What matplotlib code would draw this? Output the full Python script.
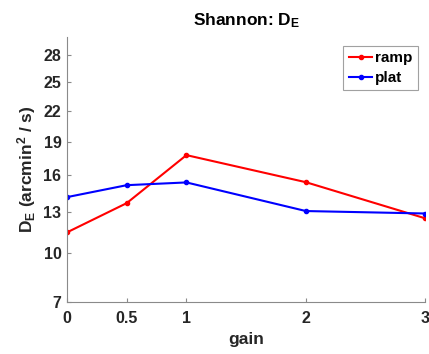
import numpy as np
import matplotlib
matplotlib.use("Agg")
import matplotlib.pyplot as plt

gain = [0, 0.5, 1, 2, 3]
ramp = [11.48, 13.70, 17.77, 15.41, 12.52]
plat = [14.18, 15.16, 15.39, 13.08, 12.89]
x_ticks = [0, 0.5, 1, 2, 3]
x_tick_labels = ["0", "0.5", "1", "2", "3"]
y_ticks = [7, 10, 13, 16, 19, 22, 25, 28]

plt.rcParams["font.family"] = ["Liberation Sans", "DejaVu Sans"]
plt.rcParams["font.weight"] = "bold"
plt.rcParams["mathtext.fontset"] = "custom"
plt.rcParams["mathtext.rm"] = "Liberation Sans:bold"
plt.rcParams["mathtext.it"] = "Liberation Sans:bold"
plt.rcParams["mathtext.bf"] = "Liberation Sans:bold"

fig = plt.figure(figsize=(4.29, 3.54), dpi=100)
ax = fig.add_axes([67 / 429, 52.3 / 354, (425.3 - 67) / 429, 264.4 / 354])

ax.plot(gain, ramp, color="#ff0000", lw=1.5, marker=".", ms=6, label="ramp")
ax.plot(gain, plat, color="#0000ff", lw=1.5, marker=".", ms=6, label="plat")

ax.set_yscale("function", functions=(np.sqrt, np.square))
ax.set_xlim(0, 3)
ax.set_ylim(7, 30)
ax.set_xticks(x_ticks)
ax.set_xticklabels(x_tick_labels)
ax.set_yticks(y_ticks)
ax.set_yticklabels([str(v) for v in y_ticks])
ax.minorticks_off()

for side in ("top", "right"):
    ax.spines[side].set_visible(False)
for side in ("left", "bottom"):
    ax.spines[side].set_color("#8a8a8a")
    ax.spines[side].set_linewidth(0.8)

ax.tick_params(axis="both", direction="in", length=3, width=0.8,
               color="#8a8a8a", labelsize=11.5, labelcolor="#262626")
ax.tick_params(axis="x", pad=7)
ax.tick_params(axis="y", pad=4)

ax.set_title(r"Shannon: D$_\mathregular{E}$", fontsize=12.5, fontweight="bold", pad=9)
ax.set_xlabel("gain", fontsize=12.5, fontweight="bold", color="#262626", labelpad=4)
ax.set_ylabel(r"D$_\mathregular{E}$ (arcmin$^\mathregular{2}$ / s)", fontsize=12.5,
              fontweight="bold", color="#262626", labelpad=4)

leg = ax.legend(loc="upper right", bbox_to_anchor=(417.5 / 429, 1 - 45.5 / 354),
                bbox_transform=fig.transFigure, frameon=True, fancybox=False,
                fontsize=11, handlelength=1.55, handletextpad=0.15,
                borderpad=0.35, labelspacing=0.4, borderaxespad=0)
leg.get_frame().set_edgecolor("#8a8a8a")
leg.get_frame().set_linewidth(0.8)

fig.savefig("out.png", dpi=100)
